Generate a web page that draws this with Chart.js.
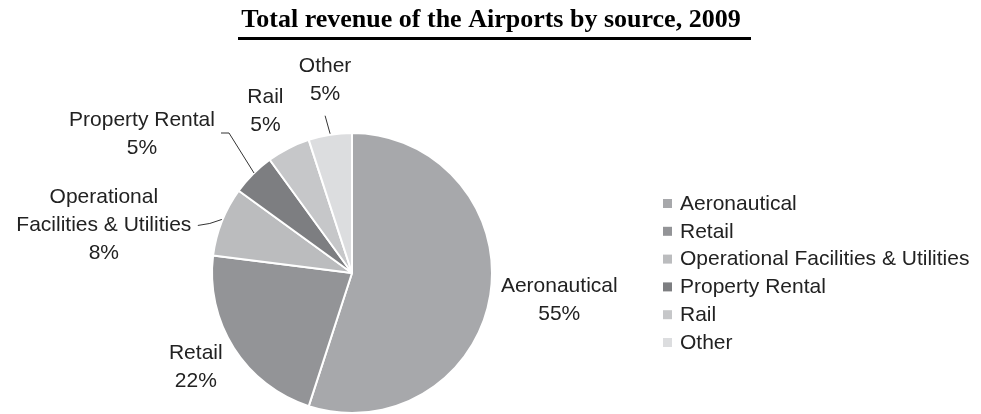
<!DOCTYPE html>
<html>
<head>
<meta charset="utf-8">
<script src="https://cdn.jsdelivr.net/npm/chart.js@4.4.1/dist/chart.umd.min.js"></script>
<style>
    html, body { margin: 0; padding: 0; background: #fff; }
    #wrap { position: relative; width: 981px; height: 414px; }
</style>
</head>
<body>
<div id="wrap"><canvas id="pie" width="981" height="414"></canvas></div>
<script>
const titleText = 'Total revenue of the Airports by source, 2009';
const categories = ['Aeronautical', 'Retail', 'Operational Facilities & Utilities', 'Property Rental', 'Rail', 'Other'];
const shares = [55, 22, 8, 5, 5, 5];
const sliceColors = ['#a7a8ab', '#939497', '#bbbcbe', '#7d7e81', '#c6c7c9', '#dcdddf'];

// label text lines, offset of the label block from the slice's outer mid point,
// and optional leader line (from slice edge to a point near the label)
const labelLines = [
    ['Aeronautical'],
    ['Retail'],
    ['Operational', 'Facilities & Utilities'],
    ['Property Rental'],
    ['Rail'],
    ['Other']
];
const labelStyle = [
    { dx: 69, dy: 5 },
    { dx: -38, dy: 19 },
    { dx: -118, dy: 4, leader: [[0, -2], [-12, 2], [-24, 4]] },
    { dx: -111, dy: -40, leader: [[1, -1], [-24, -41], [-32, -41]] },
    { dx: -23, dy: -37 },
    { dx: -5, dy: -55, leader: [[0, -1], [-5, -19]] }
];

const FONT = '"Liberation Sans", Arial, sans-serif';
const LINE_H = 28;

const decorPlugin = {
    id: 'decor',
    afterDraw(chart) {
        const ctx = chart.ctx;
        ctx.save();

        // title + underline
        ctx.fillStyle = '#000';
        ctx.font = 'bold 26px "Liberation Serif", "Times New Roman", serif';
        ctx.textAlign = 'center';
        ctx.textBaseline = 'alphabetic';
        ctx.fillText(titleText, 491, 27);
        ctx.fillRect(238, 37, 513, 3);

        // slice labels
        const meta = chart.getDatasetMeta(0);
        ctx.font = '21px ' + FONT;
        ctx.fillStyle = '#222';
        ctx.strokeStyle = '#333';
        ctx.lineWidth = 1;
        meta.data.forEach((arc, i) => {
            const p = arc.getProps(['x', 'y', 'startAngle', 'endAngle', 'outerRadius'], true);
            const mid = (p.startAngle + p.endAngle) / 2;
            const ex = p.x + Math.cos(mid) * p.outerRadius;
            const ey = p.y + Math.sin(mid) * p.outerRadius;
            const st = labelStyle[i];
            const lines = labelLines[i].concat([shares[i] + '%']);
            const cx = ex + st.dx;
            const cy = ey + st.dy;
            const top = cy - (lines.length - 1) * LINE_H / 2;
            ctx.textAlign = 'center';
            ctx.textBaseline = 'middle';
            lines.forEach((t, k) => ctx.fillText(t, cx, top + k * LINE_H));
            if (st.leader) {
                ctx.beginPath();
                st.leader.forEach(([lx, ly], k) => {
                    if (k === 0) ctx.moveTo(ex + lx, ey + ly);
                    else ctx.lineTo(ex + lx, ey + ly);
                });
                ctx.stroke();
            }
        });

        // legend
        ctx.textAlign = 'left';
        ctx.textBaseline = 'middle';
        categories.forEach((c, i) => {
            const y = 204 + i * 27.8;
            ctx.fillStyle = sliceColors[i];
            ctx.fillRect(663, y - 5, 9, 9);
            ctx.fillStyle = '#222';
            ctx.fillText(c, 680, y);
        });
        ctx.restore();
    }
};

new Chart(document.getElementById('pie'), {
    type: 'pie',
    data: {
        labels: categories,
        datasets: [{
            data: shares,
            backgroundColor: sliceColors,
            borderColor: '#fff',
            borderWidth: 2
        }]
    },
    options: {
        responsive: false,
        animation: false,
        layout: { padding: { top: 132, bottom: 0, left: 211, right: 488 } },
        plugins: {
            legend: { display: false },
            title: { display: false },
            tooltip: { enabled: false }
        }
    },
    plugins: [decorPlugin]
});
</script>
</body>
</html>
